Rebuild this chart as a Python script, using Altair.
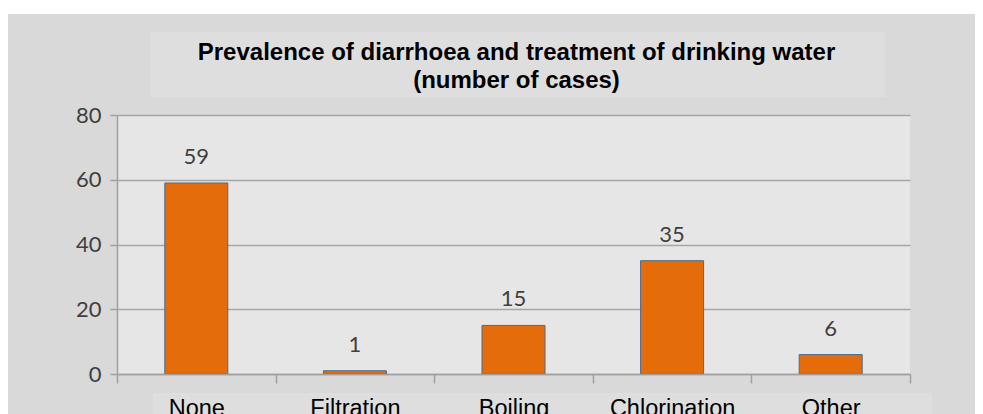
import altair as alt
import pandas as pd

categories = ["None", "Filtration", "Boiling", "Chlorination", "Other"]
cases = [59, 1, 15, 35, 6]
y_ticks = [0, 20, 40, 60, 80]
title_lines = ["Prevalence of diarrhoea and treatment of drinking water", "(number of cases)"]

df = pd.DataFrame({"treatment": categories, "cases": cases})
one = pd.DataFrame({"k": [0]})

W, H = 793, 259

x_enc = alt.X(
    "treatment:N",
    sort=categories,
    scale=alt.Scale(paddingInner=0, paddingOuter=0),
    axis=alt.Axis(
        title=None,
        labelAngle=0,
        labelFont="Liberation Sans",
        labelFontSize=23.5,
        labelColor="#000000",
        labelPadding=13,
        tickBand="extent",
        tickSize=9,
        tickColor="#a0a0a0",
        tickWidth=1.5,
        domainColor="#a0a0a0",
        domainWidth=1.5,
        grid=False,
        zindex=1,
    ),
)
y_enc = alt.Y(
    "cases:Q",
    scale=alt.Scale(domain=[0, 80], nice=False),
    axis=alt.Axis(
        title=None,
        values=y_ticks,
        labelFont="Lato",
        labelFontSize=22,
        labelColor="#404040",
        labelPadding=9,
        tickSize=7,
        tickColor="#a0a0a0",
        tickWidth=1.5,
        domainColor="#a0a0a0",
        domainWidth=1.5,
        gridColor="#a6a6a6",
        gridWidth=1.5,
    ),
)

white_strip = alt.Chart(one).mark_rect(color="#ffffff").encode(
    x=alt.value(-109), x2=alt.value(858), y=alt.value(-107), y2=alt.value(-101)
)
title_box = alt.Chart(one).mark_rect(color="#dedede").encode(
    x=alt.value(33), x2=alt.value(768), y=alt.value(-83), y2=alt.value(-18)
)
label_box = alt.Chart(one).mark_rect(color="#dedede").encode(
    x=alt.value(36), x2=alt.value(815), y=alt.value(278), y2=alt.value(320)
)

bars = alt.Chart(df).mark_bar(
    width=63, color="#E46C0A", stroke="#4a6b8f", strokeWidth=1
).encode(x=x_enc, y=y_enc)

labels = alt.Chart(df).mark_text(
    font="Lato", fontSize=22, color="#404040", baseline="alphabetic", dy=-19
).encode(x=alt.X("treatment:N", sort=categories), y="cases:Q", text="cases:Q")

chart = alt.layer(white_strip, title_box, label_box, bars, labels).properties(
    width=W,
    height=H,
    title=alt.TitleParams(
        text=title_lines,
        font="Liberation Sans",
        fontSize=24,
        fontWeight="bold",
        color="#000000",
        lineHeight=28,
        anchor="middle",
        frame="group",
        dx=3,
        dy=85,
        offset=0,
    ),
    autosize=alt.AutoSizeParams(type="none"),
    padding={"left": 109, "top": 107, "right": 65, "bottom": 50},
    background="#d9d9d9",
).configure_view(fill="#e6e6e6", strokeWidth=0)

chart.save("out.html", embed_options={"renderer": "svg", "actions": False})
